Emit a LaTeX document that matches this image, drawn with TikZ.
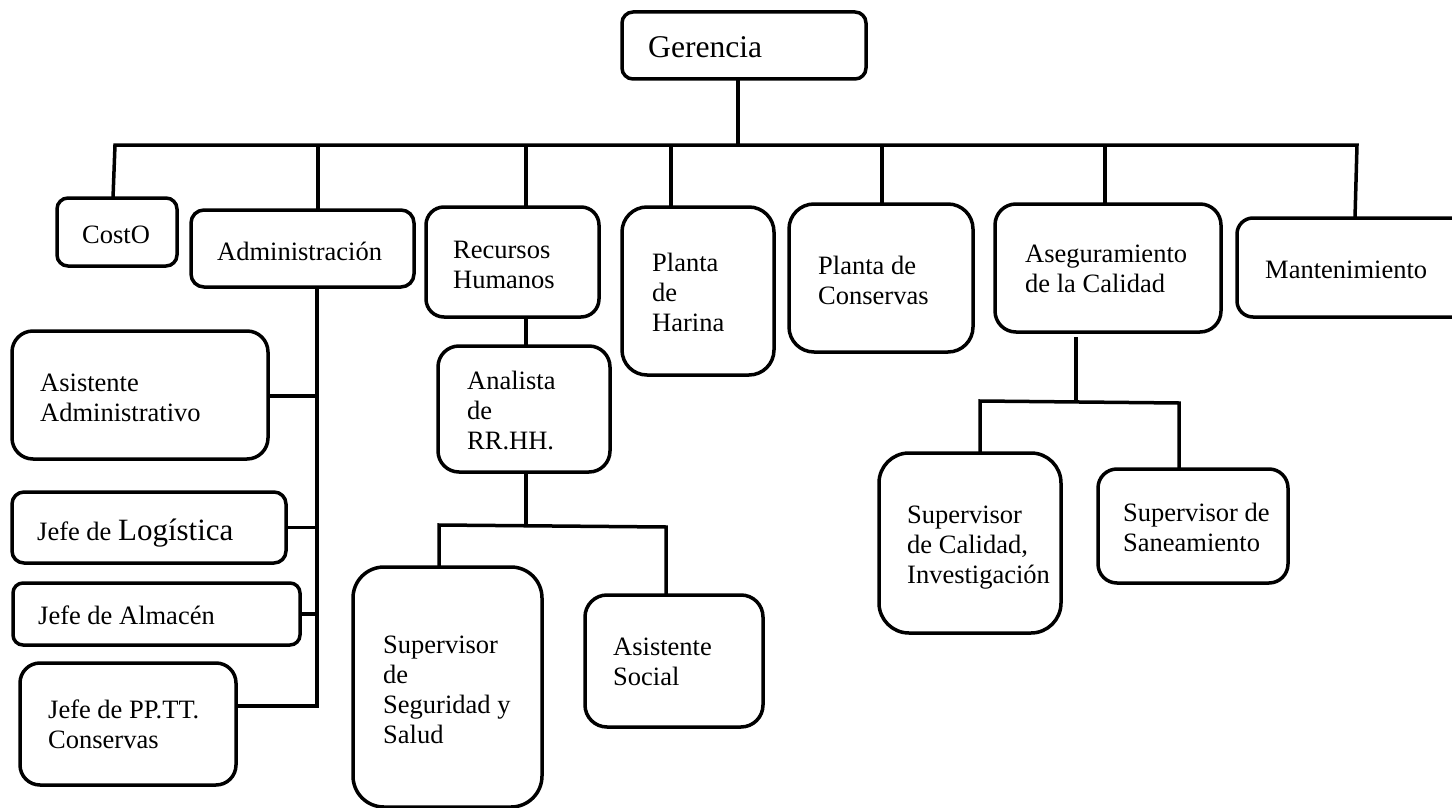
\documentclass[tikz,border=0pt]{standalone}
\usepackage{fontspec}
\setmainfont{Liberation Serif}
\usetikzlibrary{calc}
% left-aligned lines whose reference point is the first baseline
\newcommand\stk[1]{\vtop{\baselineskip=30pt\lineskiplimit=-100pt\halign{##\hfil\cr#1\crcr}}}
\tikzset{
  orgbox/.style={draw, line width=3.5pt, inner sep=0pt, outer sep=0pt},
  link/.style={line width=3.5pt},
  lbl/.style={anchor=base west, inner sep=0pt, font=\fontsize{26.5}{30}\selectfont},
}
\begin{document}
\begin{tikzpicture}[x=1pt,y=-1pt]
\useasboundingbox (0,0) rectangle (1452,808);
\clip (0,0) rectangle (1452,808);

% ---- boxes ----
\node[orgbox,minimum width=244pt,minimum height=67pt,rounded corners=11pt] (gerencia) at (744,45.5) {};
\node[orgbox,minimum width=120pt,minimum height=68pt,rounded corners=11pt] (costo) at (117,232) {};
\node[orgbox,minimum width=223pt,minimum height=77pt,rounded corners=13pt] (admin) at (302.5,248.5) {};
\node[orgbox,minimum width=173pt,minimum height=110pt,rounded corners=18pt] (rrhh) at (512.5,262) {};
\node[orgbox,minimum width=152pt,minimum height=168pt,rounded corners=25pt] (harina) at (698,291) {};
\node[orgbox,minimum width=184pt,minimum height=148pt,rounded corners=25pt] (conservas) at (881,278) {};
\node[orgbox,minimum width=226pt,minimum height=128pt,rounded corners=21pt] (aseg) at (1108,268) {};
\node[orgbox,minimum width=233pt,minimum height=99pt,rounded corners=16pt] (mant) at (1353.5,267.5) {};
\node[orgbox,minimum width=256pt,minimum height=128pt,rounded corners=21pt] (asistadm) at (140,395) {};
\node[orgbox,minimum width=274pt,minimum height=71pt,rounded corners=12pt] (logistica) at (149,527.5) {};
\node[orgbox,minimum width=287pt,minimum height=62pt,rounded corners=10pt] (almacen) at (156.5,614) {};
\node[orgbox,minimum width=216pt,minimum height=122pt,rounded corners=20pt] (pptt) at (128,724) {};
\node[orgbox,minimum width=172pt,minimum height=126pt,rounded corners=21pt] (analista) at (524,409) {};
\node[orgbox,minimum width=189pt,minimum height=240pt,rounded corners=31pt] (seguridad) at (447.5,687) {};
\node[orgbox,minimum width=178pt,minimum height=132pt,rounded corners=22pt] (social) at (674,661) {};
\node[orgbox,minimum width=182pt,minimum height=180pt,rounded corners=30pt] (supcal) at (970,543) {};
\node[orgbox,minimum width=190pt,minimum height=114pt,rounded corners=19pt] (supsan) at (1193,526) {};

% ---- labels ----
\node[lbl,font=\fontsize{31.6}{36}\selectfont] (t-gerencia) at (648,58) {Gerencia};
\node[lbl] (t-costo) at (82,243) {CostO};
\node[lbl] (t-admin) at (217,260) {Administración};
\node[lbl] (t-rrhh) at (453,258) {\stk{Recursos\cr Humanos}};
\node[lbl] (t-harina) at (652,271) {\stk{Planta\cr de\cr Harina}};
\node[lbl] (t-conservas) at (818,274) {\stk{Planta de\cr Conservas}};
\node[lbl] (t-aseg) at (1025,262) {\stk{Aseguramiento\cr de la Calidad}};
\node[lbl] (t-mant) at (1265,278) {Mantenimiento};
\node[lbl] (t-asistadm) at (40,391) {\stk{Asistente\cr Administrativo}};
\node[lbl] (t-logistica) at (37,540) {Jefe de {\fontsize{31}{34}\selectfont Logística}};
\node[lbl] (t-almacen) at (38,624) {Jefe de Almacén};
\node[lbl] (t-pptt) at (48,718) {\stk{Jefe de PP.TT.\cr Conservas}};
\node[lbl] (t-analista) at (467,389) {\stk{Analista\cr de\cr RR.HH.}};
\node[lbl] (t-seguridad) at (383,653) {\stk{Supervisor\cr de\cr Seguridad y\cr Salud}};
\node[lbl] (t-social) at (613,655) {\stk{Asistente\cr Social}};
\node[lbl] (t-supcal) at (907,523) {\stk{Supervisor\cr de Calidad,\cr Investigación}};
\node[lbl] (t-supsan) at (1123,521) {\stk{Supervisor de\cr Saneamiento}};

% ---- main bus under Gerencia ----
\coordinate (busL) at (115,145);
\coordinate (busR) at (1357,145);
\draw[link] ($(costo.north)+(-4,0)$) -- (busL) -- (busR) -- ($(mant.north)+(1.5,0)$);
\coordinate (g0) at ($(gerencia.south)+(-6,0)$);
\draw[link] (g0) -- (g0 |- busL);
\coordinate (d1) at ($(admin.north)+(15.5,0)$);
\coordinate (d2) at ($(rrhh.north)+(13.5,0)$);
\coordinate (d3) at ($(harina.north)+(-27,0)$);
\coordinate (d4) at ($(conservas.north)+(1,0)$);
\coordinate (d5) at ($(aseg.north)+(-3,0)$);
\foreach \d in {d1,d2,d3,d4,d5} \draw[link] (\d |- busL) -- (\d);

% ---- Administración spine ----
\coordinate (sp) at ($(admin.south)+(14.5,0)$);
\coordinate (spEnd) at ($(sp |- pptt.east)+(0,-18)$);
\draw[link] (sp) -- (spEnd) -- ($(pptt.east)+(0,-18)$);
\draw[link] ($(asistadm.east)+(0,1)$) -- ($(asistadm.east -| sp)+(0,1)$);
\draw[link] (logistica.east) -- (logistica.east -| sp);
\draw[link] (almacen.east) -- (almacen.east -| sp);

% ---- Recursos Humanos branch ----
\draw[link] ($(rrhh.south)+(13.5,0)$) -- ($(analista.north)+(2,0)$);
\coordinate (an0) at ($(analista.south)+(2,0)$);
\coordinate (b2L) at (439,525);
\coordinate (b2R) at (666,527);
\draw[link] (an0) -- (an0 |- b2L);
\draw[link] (b2L |- seguridad.north) -- (b2L) -- (b2R) -- (b2R |- social.north);

% ---- Aseguramiento branch ----
\coordinate (as0) at ($(aseg.south)+(-32,5)$);
\coordinate (b3L) at (980,401);
\coordinate (b3R) at (1179,403);
\draw[link] (as0) -- (as0 |- b3L);
\draw[link] (b3L |- supcal.north) -- (b3L) -- (b3R) -- (b3R |- supsan.north);
\end{tikzpicture}
\end{document}
